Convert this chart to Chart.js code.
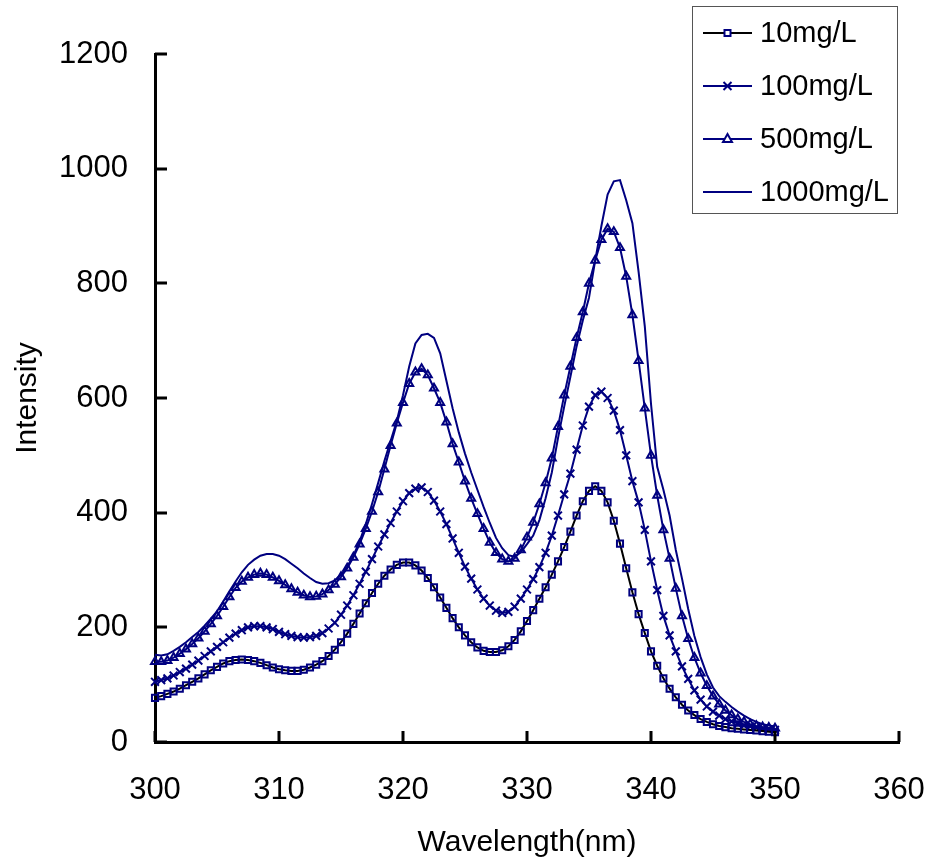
<!DOCTYPE html>
<html>
<head>
<meta charset="utf-8">
<title>Intensity vs Wavelength</title>
<script src="https://cdn.jsdelivr.net/npm/chart.js@4.4.1/dist/chart.umd.min.js"></script>
<style>
    html, body { margin: 0; padding: 0; background: #fff; }
    #wrap { width: 928px; height: 868px; position: relative; }
</style>
</head>
<body>
<div id="wrap"><canvas id="spectrumChart"></canvas></div>
<script>
// Bước sóng (nm), mỗi 0.5 nm
const wavelengths = [
    300, 300.5, 301, 301.5, 302, 302.5, 303, 303.5, 304, 304.5,
    305, 305.5, 306, 306.5, 307, 307.5, 308, 308.5, 309, 309.5,
    310, 310.5, 311, 311.5, 312, 312.5, 313, 313.5, 314, 314.5,
    315, 315.5, 316, 316.5, 317, 317.5, 318, 318.5, 319, 319.5,
    320, 320.5, 321, 321.5, 322, 322.5, 323, 323.5, 324, 324.5,
    325, 325.5, 326, 326.5, 327, 327.5, 328, 328.5, 329, 329.5,
    330, 330.5, 331, 331.5, 332, 332.5, 333, 333.5, 334, 334.5,
    335, 335.5, 336, 336.5, 337, 337.5, 338, 338.5, 339, 339.5,
    340, 340.5, 341, 341.5, 342, 342.5, 343, 343.5, 344, 344.5,
    345, 345.5, 346, 346.5, 347, 347.5, 348, 348.5, 349, 349.5,
    350
];

const seriesLabels = ['10mg/L', '100mg/L', '500mg/L', '1000mg/L'];

const conc10 = [
    77, 80, 84, 88, 93, 99, 105, 111, 118, 125,
    131, 137, 141, 143, 144, 143, 141, 138, 134, 130,
    127, 125, 124, 124, 126, 130, 135, 141, 150, 161,
    174, 189, 206, 224, 242, 260, 276, 290, 301, 309,
    313, 313, 308, 299, 286, 270, 252, 234, 216, 200,
    186, 174, 165, 159, 157, 157, 160, 167, 178, 193,
    211, 230, 250, 270, 292, 315, 340, 367, 395, 420,
    438, 446, 438, 418, 386, 346, 303, 261, 223, 190,
    158, 133, 111, 93, 78, 65, 55, 47, 40, 35,
    31, 28, 26, 24, 23, 22, 21, 20, 19, 18,
    17
];

const conc100 = [
    105, 108, 111, 116, 122, 128, 135, 142, 150, 158,
    166, 174, 182, 189, 195, 200, 202, 202, 200, 197,
    192, 188, 185, 183, 182, 183, 185, 190, 198, 208,
    222, 238, 256, 276, 297, 319, 341, 362, 382, 402,
    420, 434, 442, 444, 436, 421, 402, 380, 355, 330,
    306, 285, 266, 250, 238, 229, 225, 227, 236, 250,
    266, 284, 305, 330, 360, 395, 432, 468, 510, 552,
    585, 605, 611, 600, 578, 544, 500, 455, 418, 370,
    315, 265, 220, 186, 158, 132, 110, 90, 74, 62,
    53, 46, 40, 36, 32, 29, 27, 25, 23, 22,
    21
];

const conc500 = [
    140, 140, 142, 147, 154, 162, 171, 181, 193, 206,
    220, 236, 253, 269, 280, 287, 292, 294, 292, 287,
    281, 274, 267, 261, 256, 253, 254, 258, 265, 275,
    288, 303, 322, 345, 372, 402, 436, 476, 517, 556,
    592, 625, 645, 651, 640, 617, 592, 558, 520, 488,
    455, 425, 398, 372, 348, 330, 319, 315, 320, 335,
    357, 383, 415, 452, 495, 550, 605, 655, 705, 750,
    800, 840, 876, 895, 890, 862, 812, 745, 665, 582,
    500, 430, 370, 320, 268, 220, 180, 147, 120, 98,
    80, 66, 55, 47, 40, 35, 31, 28, 26, 25,
    24
];

const conc1000 = [
    152, 151, 153, 159, 166, 174, 183, 192, 203, 215,
    228, 245, 263, 280, 296, 309, 318, 325, 328, 328,
    325, 319, 311, 303, 294, 286, 279, 276, 277, 282,
    292, 306, 325, 350, 380, 415, 452, 490, 525, 560,
    605, 655, 695, 710, 712, 705, 678, 630, 582, 540,
    503, 470, 440, 410, 382, 356, 338, 326, 323, 331,
    345, 360, 387, 425, 470, 530, 585, 637, 690, 735,
    775, 840, 900, 955, 978, 980, 945, 905, 820, 725,
    590, 480, 440, 395, 335, 285, 232, 185, 148, 118,
    95, 80, 70, 61, 53, 46, 40, 35, 31, 29,
    27
];

const NAVY = '#000080';
const FONT = "'Liberation Sans', Arial, sans-serif";

/**
 * Ghép bước sóng với cường độ thành điểm {x, y}
 */
function toPoints(values) {
    return wavelengths.map((w, i) => ({ x: w, y: values[i] }));
}

/**
 * Vạch chia hướng vào trong + chú thích dạng hộp ở góc trên phải
 */
const excelStylePlugin = {
    id: 'excelStyle',
    afterDraw(chart) {
        const ctx = chart.ctx;
        const area = chart.chartArea;
        const xScale = chart.scales.x;
        const yScale = chart.scales.y;

        ctx.save();
        ctx.strokeStyle = '#000';
        ctx.lineWidth = 3;
        ctx.beginPath();
        yScale.ticks.forEach(t => {
            const py = Math.round(yScale.getPixelForValue(t.value));
            ctx.moveTo(area.left, py);
            ctx.lineTo(area.left + 12, py);
        });
        xScale.ticks.forEach(t => {
            const px = Math.round(xScale.getPixelForValue(t.value));
            ctx.moveTo(px, area.bottom);
            ctx.lineTo(px, area.bottom - 11);
        });
        ctx.stroke();

        // Hộp chú thích
        const box = { left: 692, top: 6, width: 205, height: 207 };
        ctx.fillStyle = '#fff';
        ctx.fillRect(box.left, box.top, box.width, box.height);
        ctx.strokeStyle = '#555';
        ctx.lineWidth = 1;
        ctx.strokeRect(box.left + 0.5, box.top + 0.5, box.width, box.height);

        ctx.font = '29px ' + FONT;
        ctx.textBaseline = 'middle';
        ctx.textAlign = 'left';
        chart.data.datasets.forEach((ds, i) => {
            const cy = 33 + i * 53;
            const x0 = 703, x1 = 752, cx = (x0 + x1) / 2;
            ctx.strokeStyle = ds.borderColor;
            ctx.lineWidth = 2;
            ctx.beginPath();
            ctx.moveTo(x0, cy);
            ctx.lineTo(x1, cy);
            ctx.stroke();

            ctx.strokeStyle = ds.pointBorderColor;
            ctx.lineWidth = 2;
            if (ds.pointStyle === 'rect') {
                ctx.fillStyle = '#fff';
                ctx.fillRect(cx - 3, cy - 3, 6, 6);
                ctx.strokeRect(cx - 3, cy - 3, 6, 6);
            } else if (ds.pointStyle === 'crossRot') {
                ctx.beginPath();
                ctx.moveTo(cx - 4, cy - 4); ctx.lineTo(cx + 4, cy + 4);
                ctx.moveTo(cx + 4, cy - 4); ctx.lineTo(cx - 4, cy + 4);
                ctx.stroke();
            } else if (ds.pointStyle === 'triangle') {
                ctx.fillStyle = '#fff';
                ctx.beginPath();
                ctx.moveTo(cx, cy - 5);
                ctx.lineTo(cx + 4.5, cy + 3);
                ctx.lineTo(cx - 4.5, cy + 3);
                ctx.closePath();
                ctx.fill();
                ctx.stroke();
            }

            ctx.fillStyle = '#000';
            ctx.fillText(ds.label, 760, cy + 1);
        });
        ctx.restore();
    }
};

const ctx = document.getElementById('spectrumChart').getContext('2d');

new Chart(ctx, {
    type: 'line',
    data: {
        datasets: [{
            label: seriesLabels[0],
            data: toPoints(conc10),
            borderColor: '#000',
            borderWidth: 2,
            pointStyle: 'rect',
            pointRadius: 4.3,
            pointBorderColor: NAVY,
            pointBorderWidth: 2,
            pointBackgroundColor: 'rgba(0,0,0,0)'
        }, {
            label: seriesLabels[1],
            data: toPoints(conc100),
            borderColor: NAVY,
            borderWidth: 2,
            pointStyle: 'crossRot',
            pointRadius: 5.5,
            pointBorderColor: NAVY,
            pointBorderWidth: 2,
            pointBackgroundColor: 'rgba(0,0,0,0)'
        }, {
            label: seriesLabels[2],
            data: toPoints(conc500),
            borderColor: NAVY,
            borderWidth: 2,
            pointStyle: 'triangle',
            pointRadius: 4.6,
            pointBorderColor: NAVY,
            pointBorderWidth: 2,
            pointBackgroundColor: 'rgba(0,0,0,0)'
        }, {
            label: seriesLabels[3],
            data: toPoints(conc1000),
            borderColor: NAVY,
            borderWidth: 2,
            pointRadius: 0,
            pointBorderColor: NAVY
        }]
    },
    options: {
        responsive: true,
        maintainAspectRatio: false,
        animation: false,
        clip: false,
        layout: {
            padding: { top: 54, right: 29, left: 0, bottom: 0 }
        },
        elements: {
            line: { tension: 0 }
        },
        scales: {
            x: {
                type: 'linear',
                min: 300,
                max: 360,
                // Cố định chiều cao trục, bỏ phần đệm do nhãn cuối gây ra
                afterFit: scale => {
                    scale.height = 126;
                    scale.paddingLeft = 0;
                    scale.paddingRight = 0;
                },
                border: { color: '#000', width: 3 },
                grid: { display: false, drawTicks: false },
                ticks: {
                    stepSize: 10,
                    color: '#000',
                    padding: 30,
                    maxRotation: 0,
                    font: { family: FONT, size: 31 }
                },
                title: {
                    display: true,
                    text: 'Wavelength(nm)',
                    color: '#000',
                    padding: { top: 0, bottom: 7 },
                    font: { family: FONT, size: 30 }
                }
            },
            y: {
                min: 0,
                max: 1200,
                afterFit: scale => {
                    scale.width = 155;
                    scale.paddingTop = 0;
                    scale.paddingBottom = 0;
                },
                border: { color: '#000', width: 3 },
                grid: { display: false, drawTicks: false },
                ticks: {
                    stepSize: 200,
                    color: '#000',
                    padding: 27,
                    font: { family: FONT, size: 31 },
                    callback: value => String(value)
                },
                title: {
                    display: true,
                    text: 'Intensity',
                    color: '#000',
                    padding: { top: 10, bottom: 0 },
                    font: { family: FONT, size: 30 }
                }
            }
        },
        plugins: {
            legend: { display: false },
            tooltip: { enabled: false }
        }
    },
    plugins: [excelStylePlugin]
});
</script>
</body>
</html>
